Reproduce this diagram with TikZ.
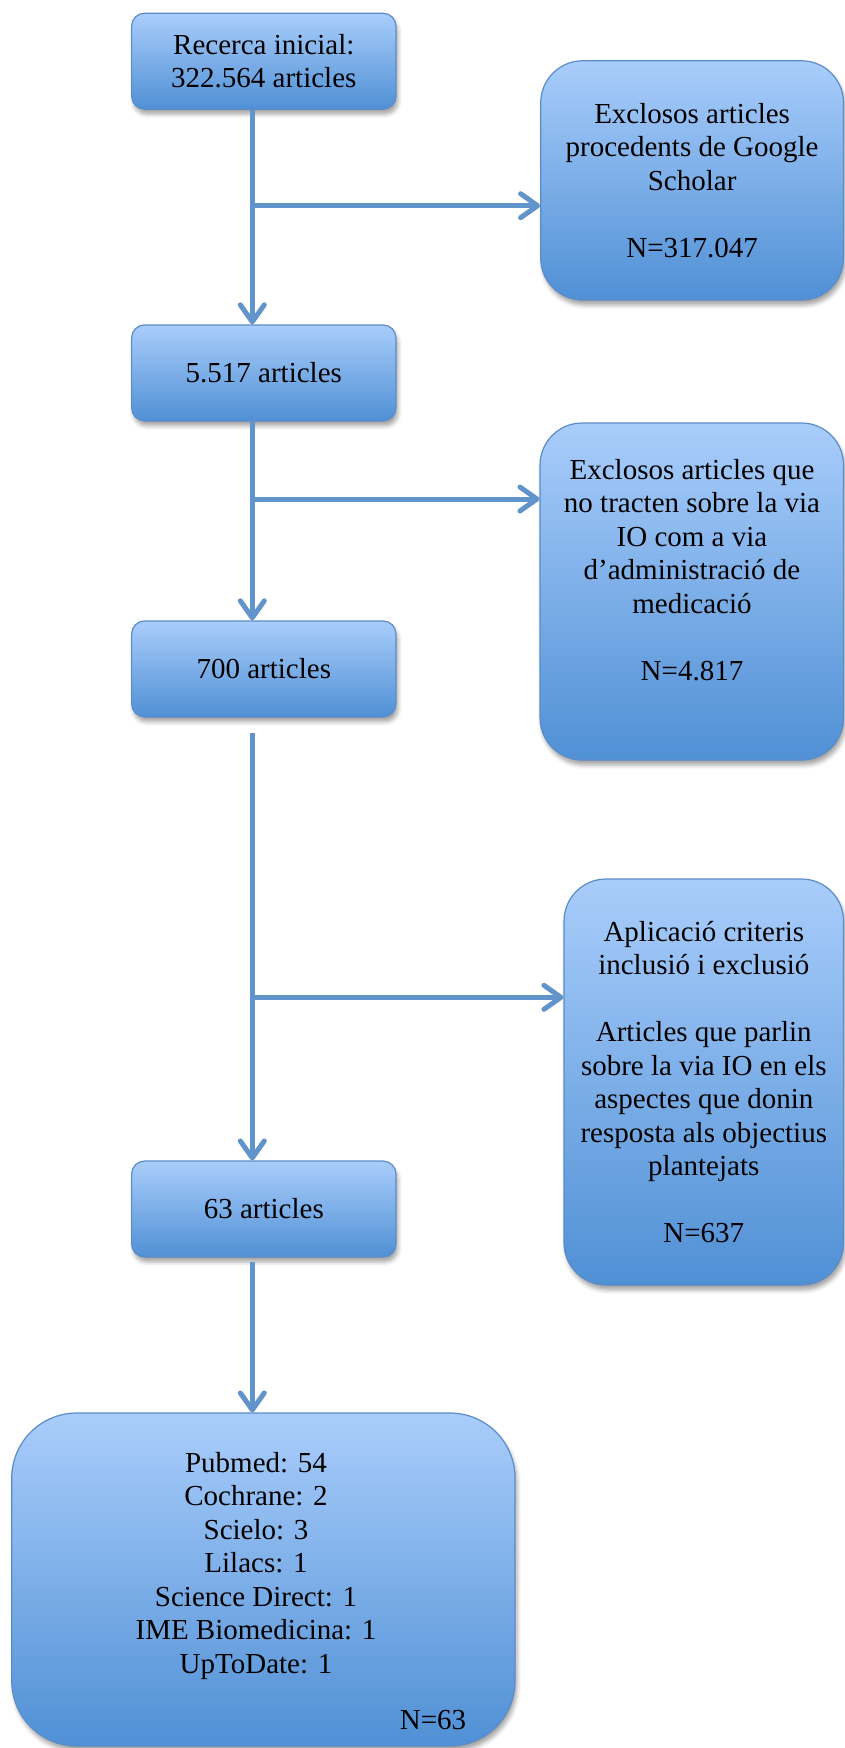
\documentclass[tikz,border=0pt]{standalone}
\usepackage{fontspec}
\setmainfont{Liberation Serif}
\usetikzlibrary{arrows.meta,shadows.blur}
\definecolor{boxtop}{HTML}{A9CDFB}
\definecolor{boxbot}{HTML}{5090D5}
\definecolor{boxline}{HTML}{5B8CC8}
\definecolor{arrowc}{HTML}{6194CA}
\tikzset{
  basebox/.style={draw=boxline, line width=1.2pt, top color=boxtop, bottom color=boxbot,
    inner sep=0pt, align=center, font=\fontsize{29}{33.5}\selectfont,
    blur shadow={shadow xshift=2pt, shadow yshift=-5pt, shadow blur radius=4pt, shadow opacity=35}},
  smallbox/.style={basebox, rounded corners=13pt, minimum width=264.4pt, minimum height=96pt},
  sidebox/.style={basebox, rounded corners=42pt},
  bigbox/.style={basebox, rounded corners=65pt},
  boxtext/.style={align=center, inner sep=0pt, font=\fontsize{29}{33.5}\selectfont},
  flowline/.style={draw=arrowc, line width=5pt},
  flowarrow/.style={flowline, -{Straight Barb[length=17pt,width=24pt,round]}}
}
\begin{document}
\begin{tikzpicture}[x=1pt,y=-1pt]
\useasboundingbox (0,0) rectangle (844,1748);
% main boxes
\node[smallbox] (b1) at (263.8,61.2) {Recerca inicial:\\322.564 articles};
\node[smallbox] (b2) at (263.8,372.9) {5.517 articles};
\node[smallbox] (b3) at (263.8,668.9) {700 articles};
\node[smallbox] (b4) at (263.8,1209) {63 articles};
% side boxes
\node[sidebox, minimum width=302.8pt, minimum height=239.3pt] (r1) at (692.1,180.4)
  {Exclosos articles\\procedents de Google\\Scholar\\[33.5pt]N=317.047};
\node[sidebox, minimum width=303.5pt, minimum height=337pt] (r2) at (691.8,591.5) {};
\node[boxtext] (r2t) at (692,570)
  {Exclosos articles que\\no tracten sobre la via\\IO com a via\\d’administració de\\medicació\\[33.5pt]N=4.817};
\node[sidebox, minimum width=279.5pt, minimum height=406pt] (r3) at (703.8,1082)
  {Aplicació criteris\\inclusió i exclusió\\[33.5pt]Articles que parlin\\sobre la via IO en els\\aspectes que donin\\resposta als objectius\\plantejats\\[33.5pt]N=637};
% bottom box
\node[bigbox, minimum width=503.3pt, minimum height=333pt] (bb) at (263.4,1579.5) {};
\node[boxtext] (bbt) at (256,1566)
  {Pubmed: 54\\Cochrane: 2\\Scielo: 3\\Lilacs: 1\\Science Direct: 1\\IME Biomedicina: 1\\UpToDate: 1};
\node[boxtext] (bbn) at (433,1720) {N=63};
% spine coordinates
\coordinate (j1) at (252.3,205.7);
\coordinate (j2) at (252.3,499);
\coordinate (j3) at (252.3,997.3);
\coordinate (s3) at (252.3,733);
\coordinate (s4) at (252.3,1261.7);
% connectors
\draw[flowline] (b1.south -| j1) -- (j1);
\draw[flowarrow] (j1) -- (b2.north -| j1);
\draw[flowarrow] (j1) -- (r1.west |- j1);
\draw[flowline] (b2.south -| j2) -- (j2);
\draw[flowarrow] (j2) -- (b3.north -| j2);
\draw[flowarrow] (j2) -- (r2.west |- j2);
\draw[flowline] (s3) -- (j3);
\draw[flowarrow] (j3) -- (b4.north -| j3);
\draw[flowarrow] (j3) -- (r3.west |- j3);
\draw[flowarrow] (s4) -- (bb.north -| s4);
\end{tikzpicture}
\end{document}
